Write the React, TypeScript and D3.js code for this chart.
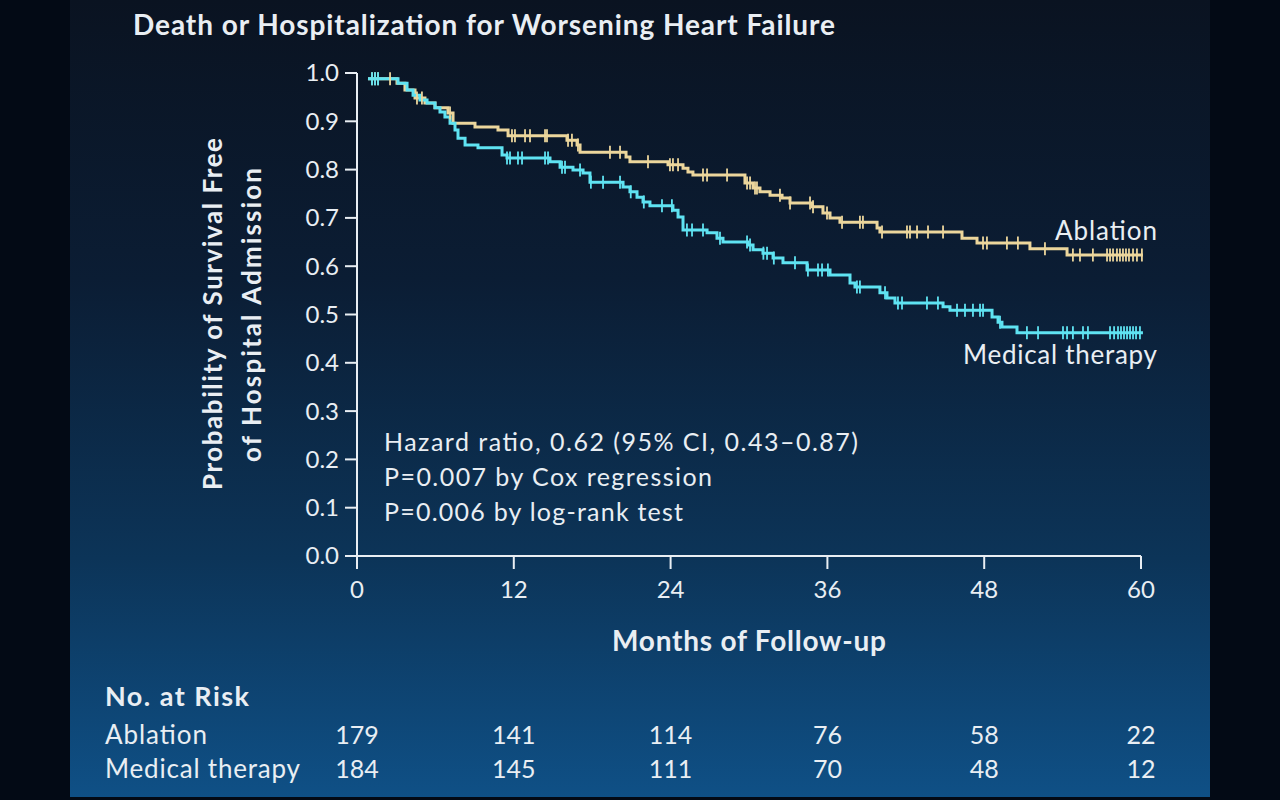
import React from "react";
import * as d3 from "d3";

const title = "Death or Hospitalization for Worsening Heart Failure";
const yTicks = [0, 0.1, 0.2, 0.3, 0.4, 0.5, 0.6, 0.7, 0.8, 0.9, 1.0];
const xTicks = [0, 12, 24, 36, 48, 60];

// Kaplan-Meier steps: time (months) at which survival becomes the value
const ablationTimes = [0.84, 3.06, 3.67, 4.44, 5.2, 5.97, 6.96, 7.35, 9.03, 10.79, 11.56, 16.07, 16.84, 17.07, 20.59, 20.89, 23.8, 24.95, 25.33, 25.71, 29.69, 30.31, 30.84, 31.61, 32.53, 33.14, 34.82, 35.66, 36.2, 36.96, 39.8, 40.02, 46.3, 47.45, 51.5, 54.34, 60.15];
const ablationSurv = [0.988, 0.979, 0.965, 0.948, 0.938, 0.928, 0.917, 0.896, 0.888, 0.882, 0.87, 0.861, 0.851, 0.836, 0.826, 0.816, 0.81, 0.803, 0.795, 0.789, 0.772, 0.762, 0.754, 0.747, 0.741, 0.731, 0.723, 0.71, 0.7, 0.691, 0.679, 0.671, 0.658, 0.648, 0.636, 0.623, 0.623];
const ablationCensor = [1.15, 1.38, 1.61, 2.53, 4.59, 4.97, 7.12, 11.86, 12.09, 12.86, 13.24, 14.39, 14.54, 16.15, 16.45, 16.91, 19.36, 20.13, 22.27, 23.95, 24.18, 24.57, 26.48, 26.79, 28.32, 29.85, 30.08, 30.46, 30.61, 32.37, 33.14, 34.67, 34.9, 35.97, 37.12, 38.49, 38.72, 40.18, 42.09, 42.32, 42.86, 43.7, 44.85, 47.91, 48.21, 49.74, 50.58, 52.65, 54.79, 55.33, 56.32, 57.4, 57.63, 57.86, 58.16, 58.39, 58.62, 58.85, 59.08, 59.39, 59.69, 60.07];

const medicalTimes = [0.84, 3.14, 3.83, 4.29, 4.82, 5.36, 5.97, 6.35, 6.73, 7.12, 7.5, 7.73, 8.27, 9.26, 11.1, 11.48, 14.77, 15.54, 16.53, 17.3, 17.83, 20.36, 20.89, 21.43, 21.89, 22.42, 24.18, 24.57, 24.95, 26.79, 27.55, 28.01, 29.92, 30.31, 31.07, 31.84, 32.6, 34.44, 36.2, 37.73, 38.11, 40.02, 40.56, 41.17, 44.85, 45.38, 48.6, 49.06, 49.36, 50.51, 60.15];
const medicalSurv = [0.988, 0.979, 0.965, 0.954, 0.944, 0.938, 0.928, 0.919, 0.909, 0.896, 0.882, 0.865, 0.851, 0.845, 0.83, 0.824, 0.816, 0.805, 0.799, 0.793, 0.774, 0.764, 0.754, 0.743, 0.733, 0.725, 0.716, 0.702, 0.675, 0.669, 0.658, 0.65, 0.644, 0.634, 0.627, 0.617, 0.607, 0.592, 0.582, 0.565, 0.557, 0.545, 0.534, 0.524, 0.516, 0.509, 0.495, 0.484, 0.474, 0.462, 0.462];
const medicalCensor = [1.15, 1.38, 1.61, 11.48, 11.71, 12.32, 12.63, 14.39, 14.62, 15.69, 15.92, 17.07, 17.9, 18.83, 20.13, 20.95, 21.95, 23.34, 24.1, 25.25, 25.64, 26.48, 27.78, 29.85, 30.08, 31.1, 31.38, 31.9, 33.52, 34.51, 35.28, 35.59, 36.04, 38.26, 38.49, 40.41, 41.4, 41.71, 43.62, 44.46, 45.92, 46.53, 47.14, 47.68, 47.91, 49.21, 51.27, 52.12, 54.03, 54.34, 54.79, 55.56, 55.94, 57.63, 57.94, 58.24, 58.47, 58.7, 58.93, 59.16, 59.39, 59.62, 59.92];

const riskGroups = ["Ablation", "Medical therapy"];
const riskGroupWidths = [102, 195];
const ablationRisk = [179, 141, 114, 76, 58, 22];
const medicalRisk = [184, 145, 111, 70, 48, 12];
const statsLines = [
  "Hazard ratio, 0.62 (95% CI, 0.43\u20130.87)",
  "P=0.007 by Cox regression",
  "P=0.006 by log-rank test",
];
const statsWidths = [474, 328, 299];

const GOLD = "#ecd69c";
const CYAN = "#5fe3f2";
const TEXT = "#e9eef3";
const FONT = "Lato, 'Open Sans', sans-serif";

function survAt(times: number[], surv: number[], t: number) {
  let s = surv[0];
  for (let i = 0; i < times.length; i++) {
    if (times[i] <= t) s = surv[i];
  }
  return s;
}

export default function App() {
  const x = d3.scaleLinear().domain([0, 60]).range([357, 1141]);
  const y = d3.scaleLinear().domain([0, 1]).range([556, 73]);
  const line = d3
    .line<[number, number]>()
    .x((d) => x(d[0]))
    .y((d) => y(d[1]))
    .curve(d3.curveStepAfter);

  const abl = ablationTimes.map((t, i) => [t, ablationSurv[i]] as [number, number]);
  const med = medicalTimes.map((t, i) => [t, medicalSurv[i]] as [number, number]);

  const riskRows = [ablationRisk, medicalRisk];

  const censorMarks = (arr: number[], times: number[], surv: number[], color: string, key: string) =>
    arr.map((t, i) => {
      const cy = y(survAt(times, surv, t));
      return (
        <line key={key + i} x1={x(t)} x2={x(t)} y1={cy - 6.5} y2={cy + 6.5} stroke={color} strokeWidth={1.8} />
      );
    });

  return (
    <svg
      width={1280}
      height={800}
      style={{ position: "fixed", left: 0, top: 0, display: "block" }}
      fontFamily={FONT}
    >
      <defs>
        <linearGradient id="bg" x1="0" y1="0" x2="0" y2="1">
          <stop offset="0" stopColor="#0a1321" />
          <stop offset="0.35" stopColor="#0b1d34" />
          <stop offset="0.7" stopColor="#0c3458" />
          <stop offset="1" stopColor="#0f5086" />
        </linearGradient>
      </defs>
      <rect x={0} y={0} width={1280} height={800} fill="#030a15" />
      <rect x={70} y={0} width={1140} height={797} fill="url(#bg)" />

      <text x={133} y={35} fill={TEXT} fontSize={28} fontWeight={700} textLength={702} lengthAdjust="spacing">
        {title}
      </text>

      {/* Y axis */}
      <line x1={357} x2={357} y1={y(1)} y2={y(0)} stroke={TEXT} strokeWidth={2} />
      {yTicks.map((t) => (
        <g key={"yt" + t}>
          <line x1={345} x2={357} y1={y(t)} y2={y(t)} stroke={TEXT} strokeWidth={2} />
          <text x={339} y={y(t)} dy="0.35em" textAnchor="end" fill={TEXT} fontSize={24}>
            {t.toFixed(1)}
          </text>
        </g>
      ))}
      <text
        transform="translate(222,314) rotate(-90)"
        textAnchor="middle"
        fill={TEXT}
        fontSize={26}
        fontWeight={700}
        textLength={352}
        lengthAdjust="spacing"
      >
        Probability of Survival Free
      </text>
      <text
        transform="translate(261,315) rotate(-90)"
        textAnchor="middle"
        fill={TEXT}
        fontSize={26}
        fontWeight={700}
        textLength={294}
        lengthAdjust="spacing"
      >
        of Hospital Admission
      </text>

      {/* X axis */}
      <line x1={x(0)} x2={x(60)} y1={556} y2={556} stroke={TEXT} strokeWidth={2} />
      {xTicks.map((t) => (
        <g key={"xt" + t}>
          <line x1={x(t)} x2={x(t)} y1={556} y2={569} stroke={TEXT} strokeWidth={2} />
          <text x={x(t)} y={590} dy="0.35em" textAnchor="middle" fill={TEXT} fontSize={24}>
            {t}
          </text>
        </g>
      ))}
      <text
        x={749}
        y={641}
        dy="0.35em"
        textAnchor="middle"
        fill={TEXT}
        fontSize={28}
        fontWeight={700}
        textLength={274}
        lengthAdjust="spacing"
      >
        Months of Follow-up
      </text>

      {/* Curves */}
      <path d={line(abl) || ""} fill="none" stroke={GOLD} strokeWidth={3} />
      <path d={line(med) || ""} fill="none" stroke={CYAN} strokeWidth={3} />
      {censorMarks(ablationCensor, ablationTimes, ablationSurv, GOLD, "ac")}
      {censorMarks(medicalCensor, medicalTimes, medicalSurv, CYAN, "mc")}

      <text x={1157} y={231} dy="0.35em" textAnchor="end" fill={TEXT} fontSize={26} textLength={102} lengthAdjust="spacing">
        Ablation
      </text>
      <text x={1157} y={355} dy="0.35em" textAnchor="end" fill={TEXT} fontSize={26} textLength={194} lengthAdjust="spacing">
        Medical therapy
      </text>

      {statsLines.map((s, i) => (
        <text
          key={"st" + i}
          x={384}
          y={442 + i * 35}
          dy="0.35em"
          fill={TEXT}
          fontSize={25}
          textLength={statsWidths[i]}
          lengthAdjust="spacing"
        >
          {s}
        </text>
      ))}

      {/* Number at risk */}
      <text x={105} y={697} dy="0.35em" fill={TEXT} fontSize={27} fontWeight={700} textLength={144} lengthAdjust="spacing">
        No. at Risk
      </text>
      {riskGroups.map((g, r) => (
        <g key={"rg" + r}>
          <text
            x={105}
            y={735 + r * 34}
            dy="0.35em"
            fill={TEXT}
            fontSize={26}
            textLength={riskGroupWidths[r]}
            lengthAdjust="spacing"
          >
            {g}
          </text>
          {riskRows[r].map((n, i) => (
            <text
              key={"rn" + r + i}
              x={x(xTicks[i])}
              y={735 + r * 34}
              dy="0.35em"
              textAnchor="middle"
              fill={TEXT}
              fontSize={25}
            >
              {n}
            </text>
          ))}
        </g>
      ))}
    </svg>
  );
}
